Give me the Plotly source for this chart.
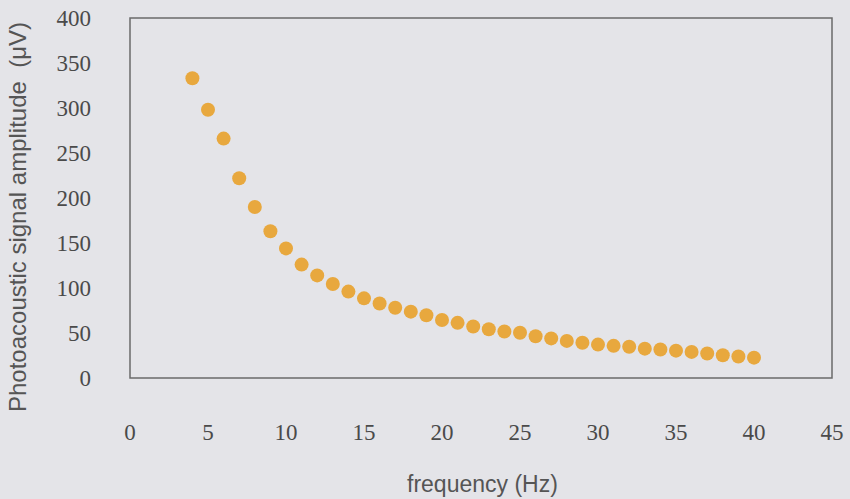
import plotly.graph_objects as go

frequency = list(range(4, 41))
amplitude = [333, 298, 266, 222, 190, 163, 144, 126, 114, 104.5, 96, 88.5, 82.7, 78,
             73.7, 69.8, 64.4, 61.3, 57.3, 54.2, 51.7, 50.2, 46.4, 44, 41.2, 39.1,
             37.1, 35.7, 34.7, 32.6, 31.7, 30.4, 29, 27.3, 25.3, 23.9, 22.6]

x_ticks = [0, 5, 10, 15, 20, 25, 30, 35, 40, 45]
y_ticks = [0, 50, 100, 150, 200, 250, 300, 350, 400]

W, H = 850, 499
ML, MR, MT, MB = 130, 18, 18, 121
PW, PH = W - ML - MR, H - MT - MB

bg = "#e4e4e8"
fig = go.Figure()
fig.add_trace(go.Scatter(
    x=frequency, y=amplitude, mode="markers",
    marker=dict(size=14, color="#e8a83e", line=dict(width=0)),
    showlegend=False,
))

serif = "Liberation Serif"
sans = "Liberation Sans"
fig.update_layout(
    width=W, height=H,
    paper_bgcolor=bg, plot_bgcolor=bg,
    margin=dict(l=ML, r=MR, t=MT, b=MB),
    xaxis=dict(
        range=[0, 45], tickvals=x_ticks, ticktext=[str(v) for v in x_ticks],
        showgrid=False, zeroline=False, showline=False, ticks="",
        ticklabelstandoff=38, automargin=False,
        tickfont=dict(family=serif, size=23, color="#4a4a4a"),
    ),
    yaxis=dict(
        range=[0, 400], tickvals=y_ticks, ticktext=[str(v) for v in y_ticks],
        showgrid=False, zeroline=False, showline=False, ticks="",
        ticklabelstandoff=38, automargin=False,
        tickfont=dict(family=serif, size=23, color="#4a4a4a"),
    ),
    shapes=[dict(type="rect", xref="paper", yref="paper", x0=0, x1=1, y0=0, y1=1,
                 line=dict(color="#6a6a6a", width=1.5), layer="above")],
    annotations=[
        dict(text="frequency (Hz)", xref="paper", yref="paper",
             x=(483 - ML) / PW, y=(H - MB - 484) / PH, showarrow=False,
             xanchor="center", yanchor="middle",
             font=dict(family=sans, size=23, color="#555555")),
        dict(text="Photoacoustic signal amplitude  (μV)", xref="paper", yref="paper",
             x=(17 - ML) / PW, y=(H - MB - 217) / PH, showarrow=False, textangle=-90,
             xanchor="center", yanchor="middle",
             font=dict(family=sans, size=24, color="#555555")),
    ],
)
fig.write_html("out.html", config={"displayModeBar": False},
               post_script="document.body.style.margin='0';")
